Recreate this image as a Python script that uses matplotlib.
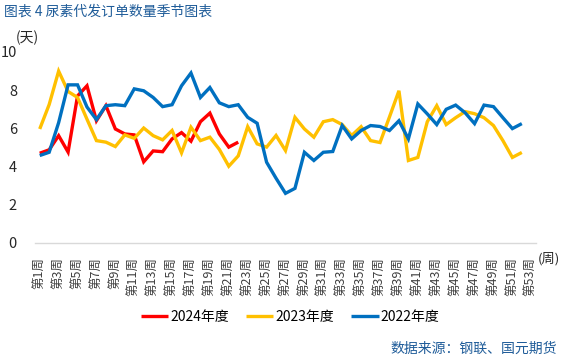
import matplotlib
matplotlib.use("Agg")
import matplotlib.pyplot as plt

plt.rcParams['font.family'] = ['Noto Sans CJK SC', 'DejaVu Sans']

weeks = [f"第{i}周" for i in range(1, 54)]

s2024 = [4.70, 4.88, 5.62, 4.76, 7.70, 8.23, 6.40, 7.19, 5.97, 5.71, 5.66, 4.25,
         4.82, 4.78, 5.45, 5.78, 5.33, 6.35, 6.80, 5.71, 5.02, 5.28]

s2023 = [5.97, 7.25, 9.00, 7.93, 7.62, 6.48, 5.36, 5.28, 5.05, 5.66, 5.48, 6.02,
         5.62, 5.40, 5.89, 4.72, 6.06, 5.36, 5.54, 4.90, 4.02, 4.56, 6.09, 5.19,
         5.02, 5.63, 4.84, 6.58, 5.97, 5.54, 6.35, 6.46, 6.20, 5.63, 6.09, 5.36,
         5.26, 6.60, 7.97, 4.32, 4.48, 6.35, 7.19, 6.20, 6.56, 6.88, 6.77, 6.56,
         6.15, 5.36, 4.48, 4.74]

s2022 = [4.58, 4.75, 6.30, 8.28, 8.28, 7.12, 6.46, 7.19, 7.24, 7.19, 8.07, 7.97,
         7.62, 7.14, 7.24, 8.23, 8.90, 7.62, 8.14, 7.34, 7.14, 7.24, 6.58, 6.27,
         4.23, 3.39, 2.60, 2.86, 4.75, 4.32, 4.75, 4.79, 6.15, 5.45, 5.89, 6.15,
         6.10, 5.89, 6.40, 5.45, 7.28, 6.76, 6.20, 7.00, 7.22, 6.82, 6.25, 7.22,
         7.14, 6.56, 5.99, 6.25]

series_names = ["2024年度", "2023年度", "2022年度"]
colors = ["#FF0000", "#FFC000", "#0070C0"]

fig = plt.figure(figsize=(5.63, 3.56), dpi=100)
ax = fig.add_axes([35/563, 1-243/356, 501/563, (243-52)/356])

for data, name, c in zip([s2024, s2023, s2022], series_names, colors):
    ax.plot(range(len(data)), data, color=c, lw=2.4, label=name,
            solid_joinstyle='miter', solid_capstyle='butt')

ax.set_xlim(-0.5, 52.5)
ax.set_ylim(0, 10)
ax.set_yticks([0, 2, 4, 6, 8, 10])
ax.tick_params(axis='y', length=0, pad=13, labelsize=10.5, labelcolor='#262626')
ax.set_xticks(range(0, 53, 2))
ax.set_xticklabels(weeks[::2], rotation=90, fontsize=9, color='#404040')
ax.tick_params(axis='x', length=0, pad=10)
for t in ax.get_xticklabels():
    t.set_va('top')
    t.set_ha('center')

for sp in ['left', 'right', 'top']:
    ax.spines[sp].set_visible(False)
ax.spines['bottom'].set_color('#D9D9D9')
ax.spines['bottom'].set_linewidth(1)

fig.text(4/563, 1-12/356, "图表 4 尿素代发订单数量季节图表", fontsize=10,
         color='#1F5C99', va='center', ha='left')
fig.text(27/563, 1-38/356, "(天)", fontsize=10, color='#262626', va='center', ha='center')
fig.text(549/563, 1-259/356, "(周)", fontsize=9.5, color='#262626', va='center', ha='center')
fig.text(557/563, 1-349/356, "数据来源：钢联、国元期货", fontsize=10,
         color='#1F5C99', va='center', ha='right')

fig.legend(loc='center', bbox_to_anchor=(290/563, 1-317/356), ncol=3, frameon=False,
           fontsize=10, handlelength=2.0, handletextpad=0.15, columnspacing=1.2)

fig.savefig("out.png", dpi=100)
